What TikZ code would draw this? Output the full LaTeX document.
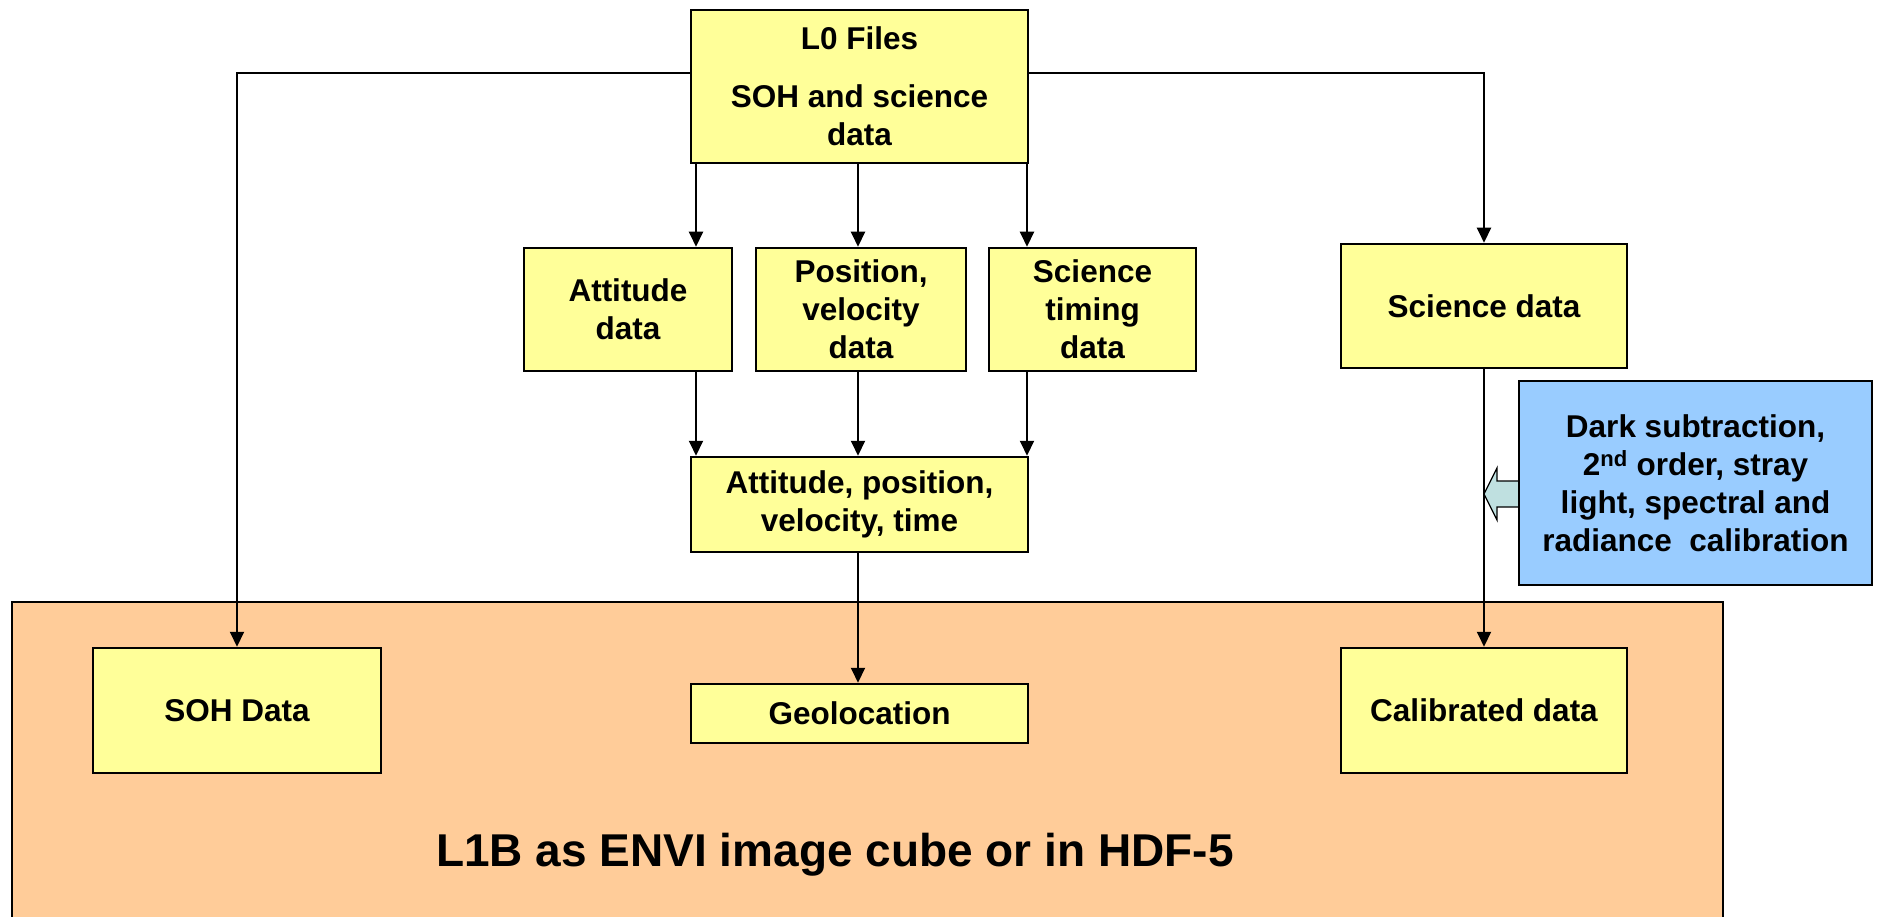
\documentclass[tikz,border=0pt]{standalone}
\usepackage{fontspec}
\setmainfont{Liberation Sans}
\usetikzlibrary{arrows.meta,calc}
\definecolor{boxyellow}{HTML}{FFFF99}
\definecolor{boxorange}{HTML}{FFCC99}
\definecolor{boxblue}{HTML}{99CCFF}
\definecolor{arrteal}{HTML}{BFE0E0}
\begin{document}
\begin{tikzpicture}[x=1pt,y=-1pt,
  ybox/.style={draw=black, line width=2.5pt, fill=boxyellow, inner sep=0pt, align=center,
    font=\fontsize{31.5}{38}\selectfont\bfseries},
  bbox/.style={ybox, fill=boxblue},
  conn/.style={line width=2pt, -{Triangle[length=15pt,width=14pt]}},
  plain/.style={line width=2pt}]
\useasboundingbox (0,0) rectangle (1879,917);
\clip (0,0) rectangle (1879,917);
% big orange area
\node[draw=black, line width=2.5pt, fill=boxorange, inner sep=0pt, minimum width=1711, minimum height=340] (l1b) at (867.5,772) {};
\node[font=\fontsize{46}{50}\selectfont\bfseries] (l1btext) at (835,855) {L1B as ENVI image cube or in HDF-5};
% boxes
\node[ybox, minimum width=337, minimum height=153] (L0) at (859.5,86.5) {L0 Files\\[20pt]SOH and science\\data};
\node[ybox, minimum width=208, minimum height=123] (att) at (628,309.5) {Attitude\\data};
\node[ybox, minimum width=210, minimum height=123] (pos) at (861,309.5) {Position,\\velocity\\data};
\node[ybox, minimum width=207, minimum height=123] (tim) at (1092.5,309.5) {Science\\timing\\data};
\node[ybox, minimum width=286, minimum height=124] (sci) at (1484,306) {Science data};
\node[ybox, minimum width=337, minimum height=95] (apvt) at (859.5,504.5) {Attitude, position,\\velocity, time};
\node[ybox, minimum width=288, minimum height=125] (soh) at (237,710.5) {SOH Data};
\node[ybox, minimum width=337, minimum height=59] (geo) at (859.5,713.5) {Geolocation};
\node[ybox, minimum width=286, minimum height=125] (cal) at (1484,710.5) {Calibrated data};
\node[bbox, minimum width=353, minimum height=204] (blue) at (1695.5,483) {Dark subtraction,\\2\textsuperscript{nd} order, stray\\light, spectral and\\radiance\ \ calibration};
% helper coordinates
\coordinate (tl) at (237,73);
\coordinate (tr) at (1484,73);
\coordinate (c1) at (696,0);
\coordinate (c2) at (858,0);
\coordinate (c3) at (1027,0);
% connectors
\draw[conn] (L0.west |- tl) -- (tl) -- (soh.north);
\draw[conn] (L0.east |- tr) -- (tr) -- (sci.north);
\draw[conn] (L0.south -| c1) -- (att.north -| c1);
\draw[conn] (L0.south -| c2) -- (pos.north -| c2);
\draw[conn] (L0.south -| c3) -- (tim.north -| c3);
\draw[conn] (att.south -| c1) -- (apvt.north -| c1);
\draw[conn] (pos.south -| c2) -- (apvt.north -| c2);
\draw[conn] (tim.south -| c3) -- (apvt.north -| c3);
\draw[conn] (apvt.south -| c2) -- (geo.north -| c2);
\draw[conn] (sci.south) -- (cal.north);
% block arrow from calibration box to science line
\draw[line width=1.2pt, fill=arrteal, line join=miter]
  (blue.west |- 0,481) -- (1497,481) -- (1497,468) -- (1484,494) -- (1497,520) -- (1497,507) -- (blue.west |- 0,507);
\end{tikzpicture}
\end{document}
